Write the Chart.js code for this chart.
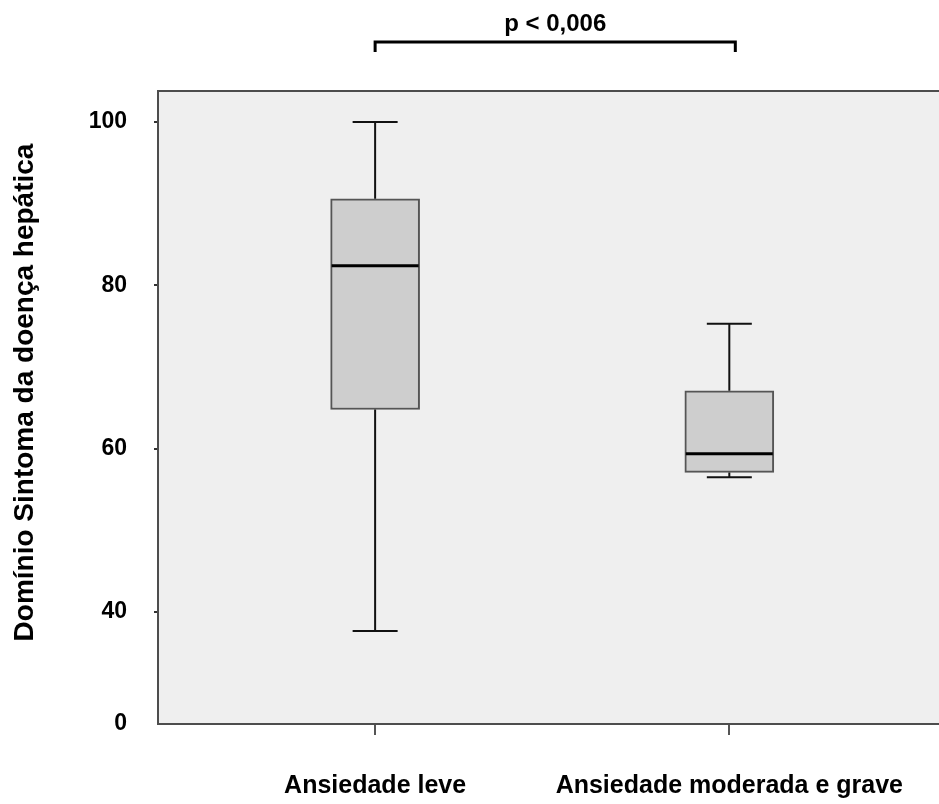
<!DOCTYPE html>
<html>
<head>
<meta charset="utf-8">
<script src="https://cdn.jsdelivr.net/npm/chart.js@4/dist/chart.umd.min.js"></script>
<style>
  html, body { margin: 0; padding: 0; background: #fff; }
  #wrap { width: 939px; height: 804px; position: relative; }
</style>
</head>
<body>
<div id="wrap"><canvas id="chart"></canvas></div>
<script>
// Data
const groups = ['Ansiedade leve', 'Ansiedade moderada e grave'];
const whiskerMin = [37.7, 56.5];
const q1 = [64.8, 57.1];
const median = [82.4, 59.4];
const q3 = [90.6, 67.1];
const whiskerMax = [100, 75.3];
const yTicks = [40, 60, 80, 100];
const yTitle = 'Domínio Sintoma da doença hepática';
const pText = 'p < 0,006';

// broken axis: bottom of the plot is labelled "0"
const yMin = 26.3;
const yMax = 103.8;

const FONT = "'Liberation Sans', Arial, sans-serif";
const AXIS = '#4d4d4d';

// Plot background, top border, whiskers, medians, y title and the p bracket
const boxPlotPlugin = {
  id: 'boxPlot',
  beforeDraw(chart) {
    const { ctx, chartArea: a } = chart;
    ctx.save();
    ctx.fillStyle = '#efefef';
    ctx.fillRect(a.left, a.top, chart.width - a.left, a.bottom - a.top);
    ctx.strokeStyle = AXIS;
    ctx.lineWidth = 2;
    ctx.beginPath();
    ctx.moveTo(a.left, a.top);
    ctx.lineTo(chart.width, a.top);
    ctx.moveTo(a.right - 2, a.bottom);
    ctx.lineTo(chart.width, a.bottom);
    ctx.stroke();

    // y axis title, rotated
    ctx.translate(25, (a.top + a.bottom) / 2 - 15);
    ctx.rotate(-Math.PI / 2);
    ctx.fillStyle = '#000';
    ctx.font = 'bold 28px ' + FONT;
    ctx.textAlign = 'center';
    ctx.textBaseline = 'middle';
    ctx.fillText(yTitle, 0, 0);
    ctx.restore();
  },
  afterDatasetsDraw(chart) {
    const { ctx } = chart;
    const xs = chart.scales.x;
    const ys = chart.scales.y;
    const meta = chart.getDatasetMeta(0);
    ctx.save();
    groups.forEach((g, i) => {
      const x = xs.getPixelForValue(i + 1);
      const bar = meta.data[i];
      const half = bar.width / 2;
      const cap = 22.5;
      ctx.strokeStyle = '#111';
      ctx.lineWidth = 2;
      ctx.beginPath();
      // upper whisker
      ctx.moveTo(x, ys.getPixelForValue(q3[i]));
      ctx.lineTo(x, ys.getPixelForValue(whiskerMax[i]));
      ctx.moveTo(x - cap, ys.getPixelForValue(whiskerMax[i]));
      ctx.lineTo(x + cap, ys.getPixelForValue(whiskerMax[i]));
      // lower whisker
      ctx.moveTo(x, ys.getPixelForValue(q1[i]));
      ctx.lineTo(x, ys.getPixelForValue(whiskerMin[i]));
      ctx.moveTo(x - cap, ys.getPixelForValue(whiskerMin[i]));
      ctx.lineTo(x + cap, ys.getPixelForValue(whiskerMin[i]));
      ctx.stroke();
      // median
      ctx.strokeStyle = '#000';
      ctx.lineWidth = 3;
      ctx.beginPath();
      ctx.moveTo(x - half + 1, ys.getPixelForValue(median[i]));
      ctx.lineTo(x + half - 1, ys.getPixelForValue(median[i]));
      ctx.stroke();
    });

    // significance bracket above the plot
    const x1 = xs.getPixelForValue(1);
    const x2 = xs.getPixelForValue(2) + 6;
    const by = 42;
    ctx.strokeStyle = '#000';
    ctx.lineWidth = 3;
    ctx.beginPath();
    ctx.moveTo(x1, by + 10);
    ctx.lineTo(x1, by);
    ctx.lineTo(x2, by);
    ctx.lineTo(x2, by + 10);
    ctx.stroke();
    ctx.fillStyle = '#000';
    ctx.font = 'bold 24px ' + FONT;
    ctx.textAlign = 'center';
    ctx.textBaseline = 'middle';
    ctx.fillText(pText, (x1 + x2) / 2, 24);
    ctx.restore();
  }
};

new Chart(document.getElementById('chart'), {
  type: 'bar',
  data: {
    datasets: [{
      data: groups.map((g, i) => ({ x: i + 1, y: [q1[i], q3[i]] })),
      backgroundColor: '#cecece',
      borderColor: '#555',
      borderWidth: 2,
      borderSkipped: false,
      barThickness: 89
    }]
  },
  options: {
    responsive: true,
    maintainAspectRatio: false,
    animation: false,
    layout: { padding: { top: 91, right: 0, bottom: 0, left: 0 } },
    plugins: {
      legend: { display: false },
      tooltip: { enabled: false }
    },
    scales: {
      x: {
        type: 'linear',
        offset: false,
        min: 0.387,
        max: 2.577,
        afterBuildTicks: s => { s.ticks = [{ value: 1 }, { value: 2 }]; },
        afterFit: s => { s.height = 80; },
        ticks: {
          callback: v => groups[v - 1],
          color: '#000',
          font: { family: FONT, size: 25, weight: 'bold' },
          padding: 36,
          maxRotation: 0
        },
        grid: { offset: false, drawOnChartArea: false, tickLength: 11, color: '#555', lineWidth: 2 },
        border: { display: true, color: AXIS, width: 2 }
      },
      y: {
        min: yMin,
        max: yMax,
        afterBuildTicks: s => { s.ticks = [yMin].concat(yTicks).map(v => ({ value: v })); },
        afterFit: s => { s.width = 158; },
        ticks: {
          callback: v => (v === yMin ? '0' : String(v)),
          color: '#000',
          font: { family: FONT, size: 23, weight: 'bold' },
          padding: 27
        },
        grid: {
          drawOnChartArea: false,
          tickLength: 4,
          lineWidth: 2,
          color: c => (c.tick && c.tick.value === yMin ? 'rgba(0,0,0,0)' : '#333')
        },
        border: { display: true, color: AXIS, width: 2 }
      }
    }
  },
  plugins: [boxPlotPlugin]
});
</script>
</body>
</html>
